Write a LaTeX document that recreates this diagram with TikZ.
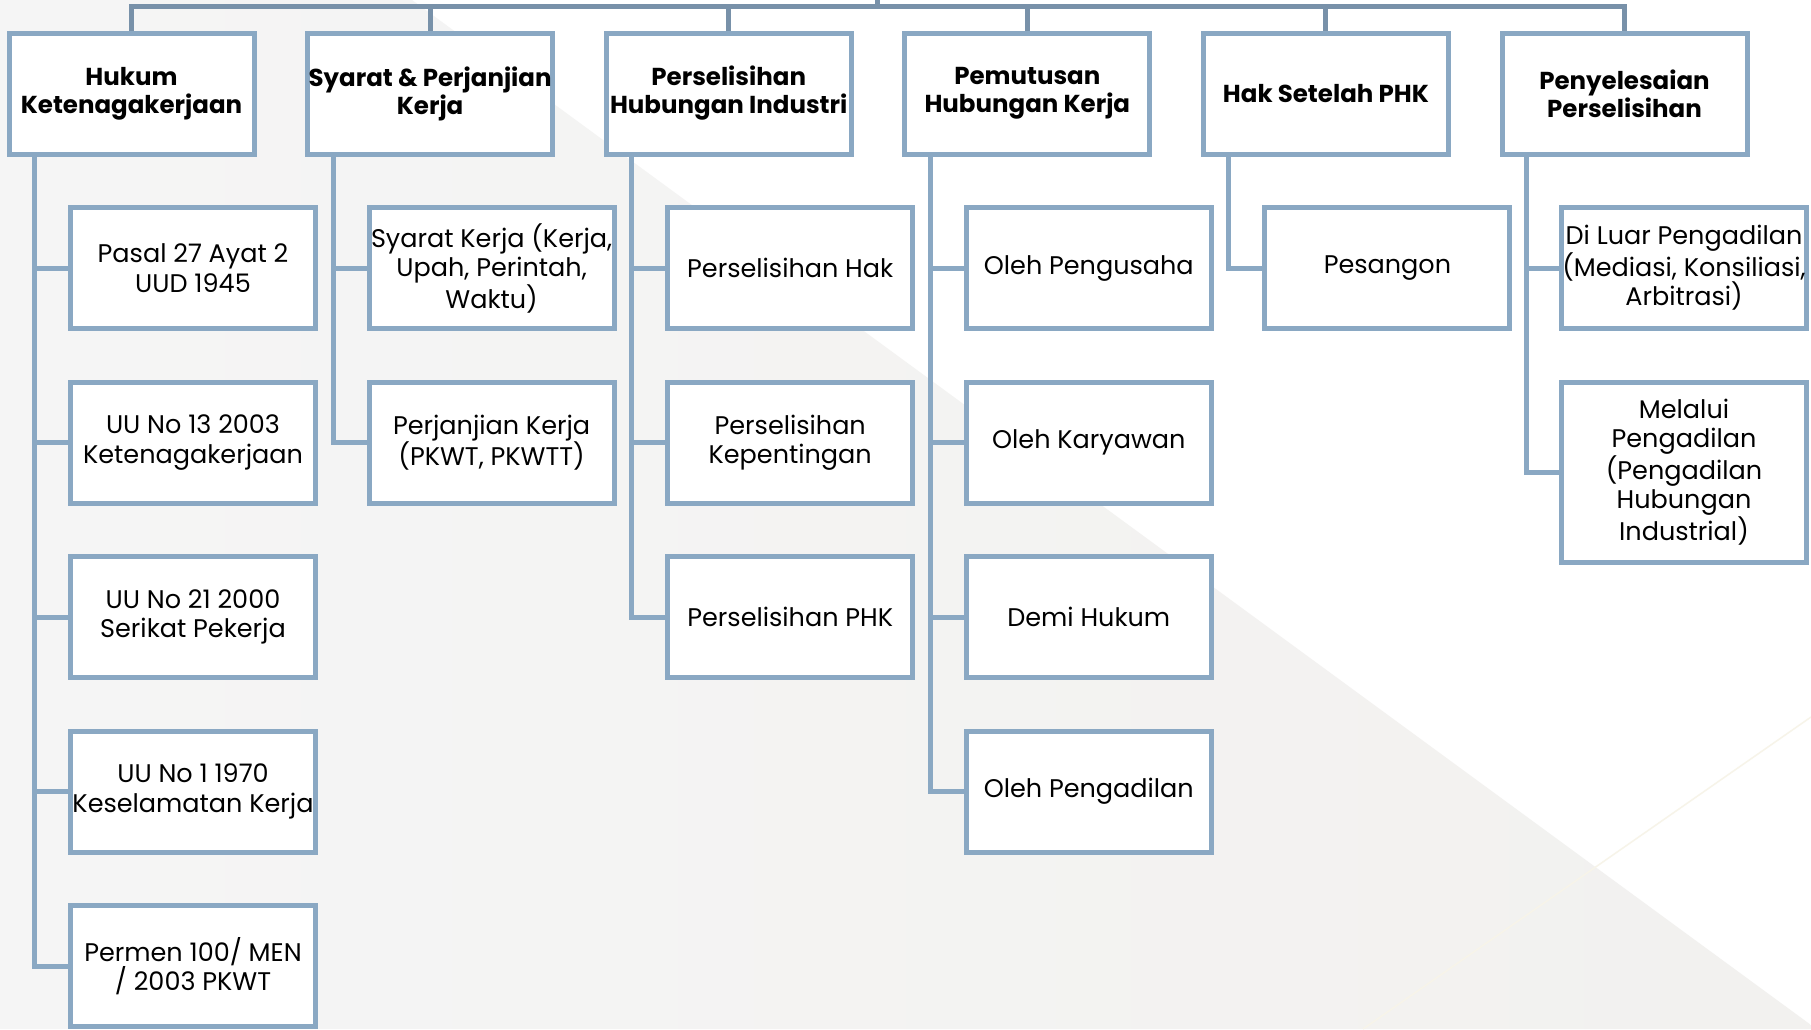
\documentclass[tikz,border=0pt]{standalone}
\usepackage{fontspec}
\setmainfont{Poppins}
\definecolor{boxc}{HTML}{8AA8C3}
\definecolor{topc}{HTML}{7891A9}
\definecolor{bggray}{HTML}{F2F1EF}
\definecolor{bgleft}{HTML}{F5F5F5}
\definecolor{faint}{HTML}{F7F4E9}
\tikzset{
  boxbase/.style={draw=boxc, line width=5pt, fill=white, minimum width=245pt,
    minimum height=121pt, inner sep=0pt, align=center, text=black},
  hdr/.style={boxbase, font=\fontsize{24.5}{28}\selectfont\bfseries},
  child/.style={boxbase, font=\fontsize{25.5}{29.5}\selectfont},
  conn/.style={draw=boxc, line width=5pt},
  topconn/.style={draw=topc, line width=5pt},
}
\begin{document}
\begin{tikzpicture}[x=1pt, y=-1pt]
\useasboundingbox (0,0) rectangle (1811,1029);
% background
\fill[white] (0,0) rectangle (1811,1029);
\shade[left color=bgleft, right color=bggray] (0,0) -- (412,0) -- (1811,1025) -- (1811,1029) -- (0,1029) -- cycle;
\draw[faint, line width=1.5pt] (1811,717) -- (1363,1029);

% headers
\node[hdr] (h1) at (131.5,93.5) {Hukum\\Ketenagakerjaan};
\node[hdr] (h2) at (430.1,93.5) {Syarat \& Perjanjian\\Kerja};
\node[hdr] (h3) at (728.7,93.5) {Perselisihan\\Hubungan Industri};
\node[hdr] (h4) at (1027.3,93.5) {Pemutusan\\Hubungan Kerja};
\node[hdr] (h5) at (1325.9,93.5) {Hak Setelah PHK};
\node[hdr] (h6) at (1624.5,93.5) {Penyelesaian\\Perselisihan};

% top connector
\coordinate (topline) at (0,6);
\coordinate (root) at (877,0);
\draw[topconn] (root) -- (root |- topline);
\draw[topconn, line cap=rect] (h1.north |- topline) -- (h6.north |- topline);
\foreach \h in {h1,h2,h3,h4,h5,h6} {
  \draw[topconn] (\h.north) -- (\h.north |- topline);
}

% children column 1
\node[child] (c11) at (193,268) {Pasal 27 Ayat 2\\UUD 1945};
\node[child] (c12) at (193,442.5) {UU No 13 2003\\Ketenagakerjaan};
\node[child] (c13) at (193,617) {UU No 21 2000\\Serikat Pekerja};
\node[child] (c14) at (193,791.5) {UU No 1 1970\\Keselamatan Kerja};
\node[child] (c15) at (193,966) {Permen 100/ MEN\\/ 2003 PKWT};
% column 2
\node[child] (c21) at (491.6,268) {Syarat Kerja (Kerja,\\Upah, Perintah,\\Waktu)};
\node[child] (c22) at (491.6,442.5) {Perjanjian Kerja\\(PKWT, PKWTT)};
% column 3
\node[child] (c31) at (790.2,268) {Perselisihan Hak};
\node[child] (c32) at (790.2,442.5) {Perselisihan\\Kepentingan};
\node[child] (c33) at (790.2,617) {Perselisihan PHK};
% column 4
\node[child] (c41) at (1088.8,268) {Oleh Pengusaha};
\node[child] (c42) at (1088.8,442.5) {Oleh Karyawan};
\node[child] (c43) at (1088.8,617) {Demi Hukum};
\node[child] (c44) at (1088.8,791.5) {Oleh Pengadilan};
% column 5
\node[child] (c51) at (1387.4,268) {Pesangon};
% column 6
\node[child] (c61) at (1684,268) {Di Luar Pengadilan\\(Mediasi, Konsiliasi,\\Arbitrasi)};
\node[child, minimum height=180pt] (c62) at (1684,472) {Melalui\\Pengadilan\\(Pengadilan\\Hubungan\\Industrial)};

% trunks
\coordinate (t1) at (34.5,0);
\coordinate (t2) at (333,0);
\coordinate (t3) at (631.6,0);
\coordinate (t4) at (930.2,0);
\coordinate (t5) at (1228,0);
\coordinate (t6) at (1526,0);

\foreach \t/\h/\c in {t1/h1/c11,t1/h1/c12,t1/h1/c13,t1/h1/c14,t1/h1/c15,
                      t2/h2/c21,t2/h2/c22,
                      t3/h3/c31,t3/h3/c32,t3/h3/c33,
                      t4/h4/c41,t4/h4/c42,t4/h4/c43,t4/h4/c44,
                      t5/h5/c51,
                      t6/h6/c61,t6/h6/c62} {
  \draw[conn] (\t |- \h.south) |- (\c.west);
}
\end{tikzpicture}
\end{document}
